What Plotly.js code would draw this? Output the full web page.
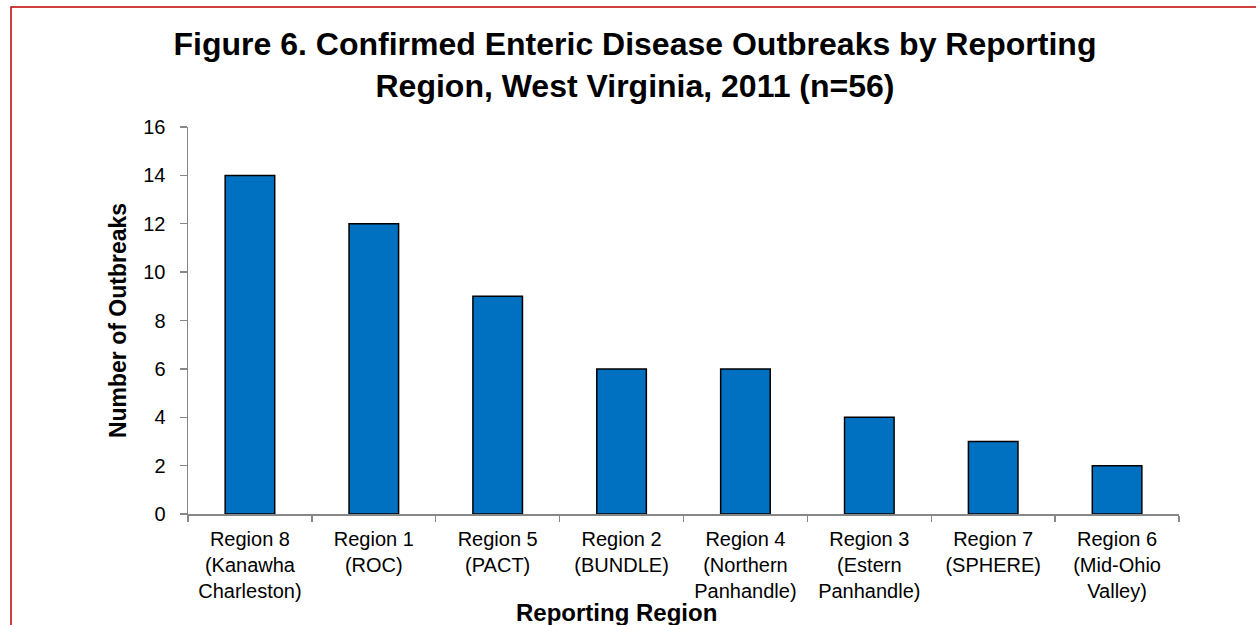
<!DOCTYPE html>
<html>
<head>
<meta charset="utf-8">
<script src="https://cdn.plot.ly/plotly-3.0.1.min.js"></script>
<style>
  html, body { margin: 0; padding: 0; background: #fff; }
  #chart { width: 1256px; height: 625px; }
</style>
</head>
<body>
<div id="chart"></div>
<script>
// Confirmed enteric disease outbreaks by reporting region, WV 2011
const regions = [
  "Region 8<br>(Kanawha<br>Charleston)",
  "Region 1<br>(ROC)",
  "Region 5<br>(PACT)",
  "Region 2<br>(BUNDLE)",
  "Region 4<br>(Northern<br>Panhandle)",
  "Region 3<br>(Estern<br>Panhandle)",
  "Region 7<br>(SPHERE)",
  "Region 6<br>(Mid-Ohio<br>Valley)"
];
const outbreaks = [14, 12, 9, 6, 6, 4, 3, 2];
const yTicks = [0, 2, 4, 6, 8, 10, 12, 14, 16];

const chartTitle = "Figure 6. Confirmed Enteric Disease Outbreaks by Reporting<br>Region, West Virginia, 2011 (n=56)";
const xTitle = "Reporting Region";
const yTitle = "Number of Outbreaks";

const W = 1256, H = 625;
const M = { l: 188, r: 77, t: 127, b: 111 };
const plotW = W - M.l - M.r, plotH = H - M.t - M.b;
// convert page pixels to paper fractions
const px = x => (x - M.l) / plotW;
const py = y => (H - M.b - y) / plotH;

const FONT = "Arial, 'Liberation Sans', sans-serif";
const AXIS_GREY = "#878787";

const trace = {
  type: "bar",
  x: regions,
  y: outbreaks,
  marker: { color: "#0070C0", line: { color: "#000000", width: 1.5 } },
  hoverinfo: "x+y"
};

const layout = {
  width: W,
  height: H,
  margin: M,
  paper_bgcolor: "#ffffff",
  plot_bgcolor: "#ffffff",
  showlegend: false,
  bargap: 0.6,
  font: { family: FONT, color: "#000000" },
  title: {
    text: "<b>" + chartTitle + "</b>",
    font: { family: FONT, size: 32, color: "#000000" },
    xref: "container", x: 635 / W, xanchor: "center",
    yref: "container", y: 1 - 55 / H, yanchor: "top"
  },
  xaxis: {
    type: "category",
    tickson: "boundaries",
    ticks: "outside",
    ticklen: 6,
    tickwidth: 1.3,
    tickcolor: AXIS_GREY,
    showline: true,
    linecolor: AXIS_GREY,
    linewidth: 1.5,
    showgrid: false,
    zeroline: false,
    tickfont: { family: FONT, size: 20, color: "#000000" },
    ticklabelstandoff: 6,
    fixedrange: true
  },
  yaxis: {
    range: [0, 16],
    tickvals: yTicks,
    ticks: "outside",
    ticklen: 7,
    tickwidth: 1.3,
    tickcolor: AXIS_GREY,
    showline: true,
    linecolor: AXIS_GREY,
    linewidth: 1.5,
    showgrid: false,
    zeroline: false,
    tickfont: { family: FONT, size: 20, color: "#000000" },
    ticklabelstandoff: 10,
    title: {
      text: "<b>" + yTitle + "</b>",
      font: { family: FONT, size: 23, color: "#000000" },
      standoff: 10
    },
    fixedrange: true
  },
  annotations: [{
    text: "<b>" + xTitle + "</b>",
    xref: "paper", yref: "paper",
    x: px(616), y: py(612),
    xanchor: "center", yanchor: "middle",
    showarrow: false,
    font: { family: FONT, size: 24, color: "#000000" }
  }],
  shapes: [{
    // dark red frame around the figure
    type: "rect",
    xref: "paper", yref: "paper",
    x0: px(11), x1: px(W + 40),
    y0: py(H + 40), y1: py(7),
    line: { color: "#C00000", width: 1.5 },
    fillcolor: "rgba(0,0,0,0)",
    layer: "above"
  }]
};

Plotly.newPlot("chart", [trace], layout, { displayModeBar: false, staticPlot: true });
</script>
</body>
</html>
